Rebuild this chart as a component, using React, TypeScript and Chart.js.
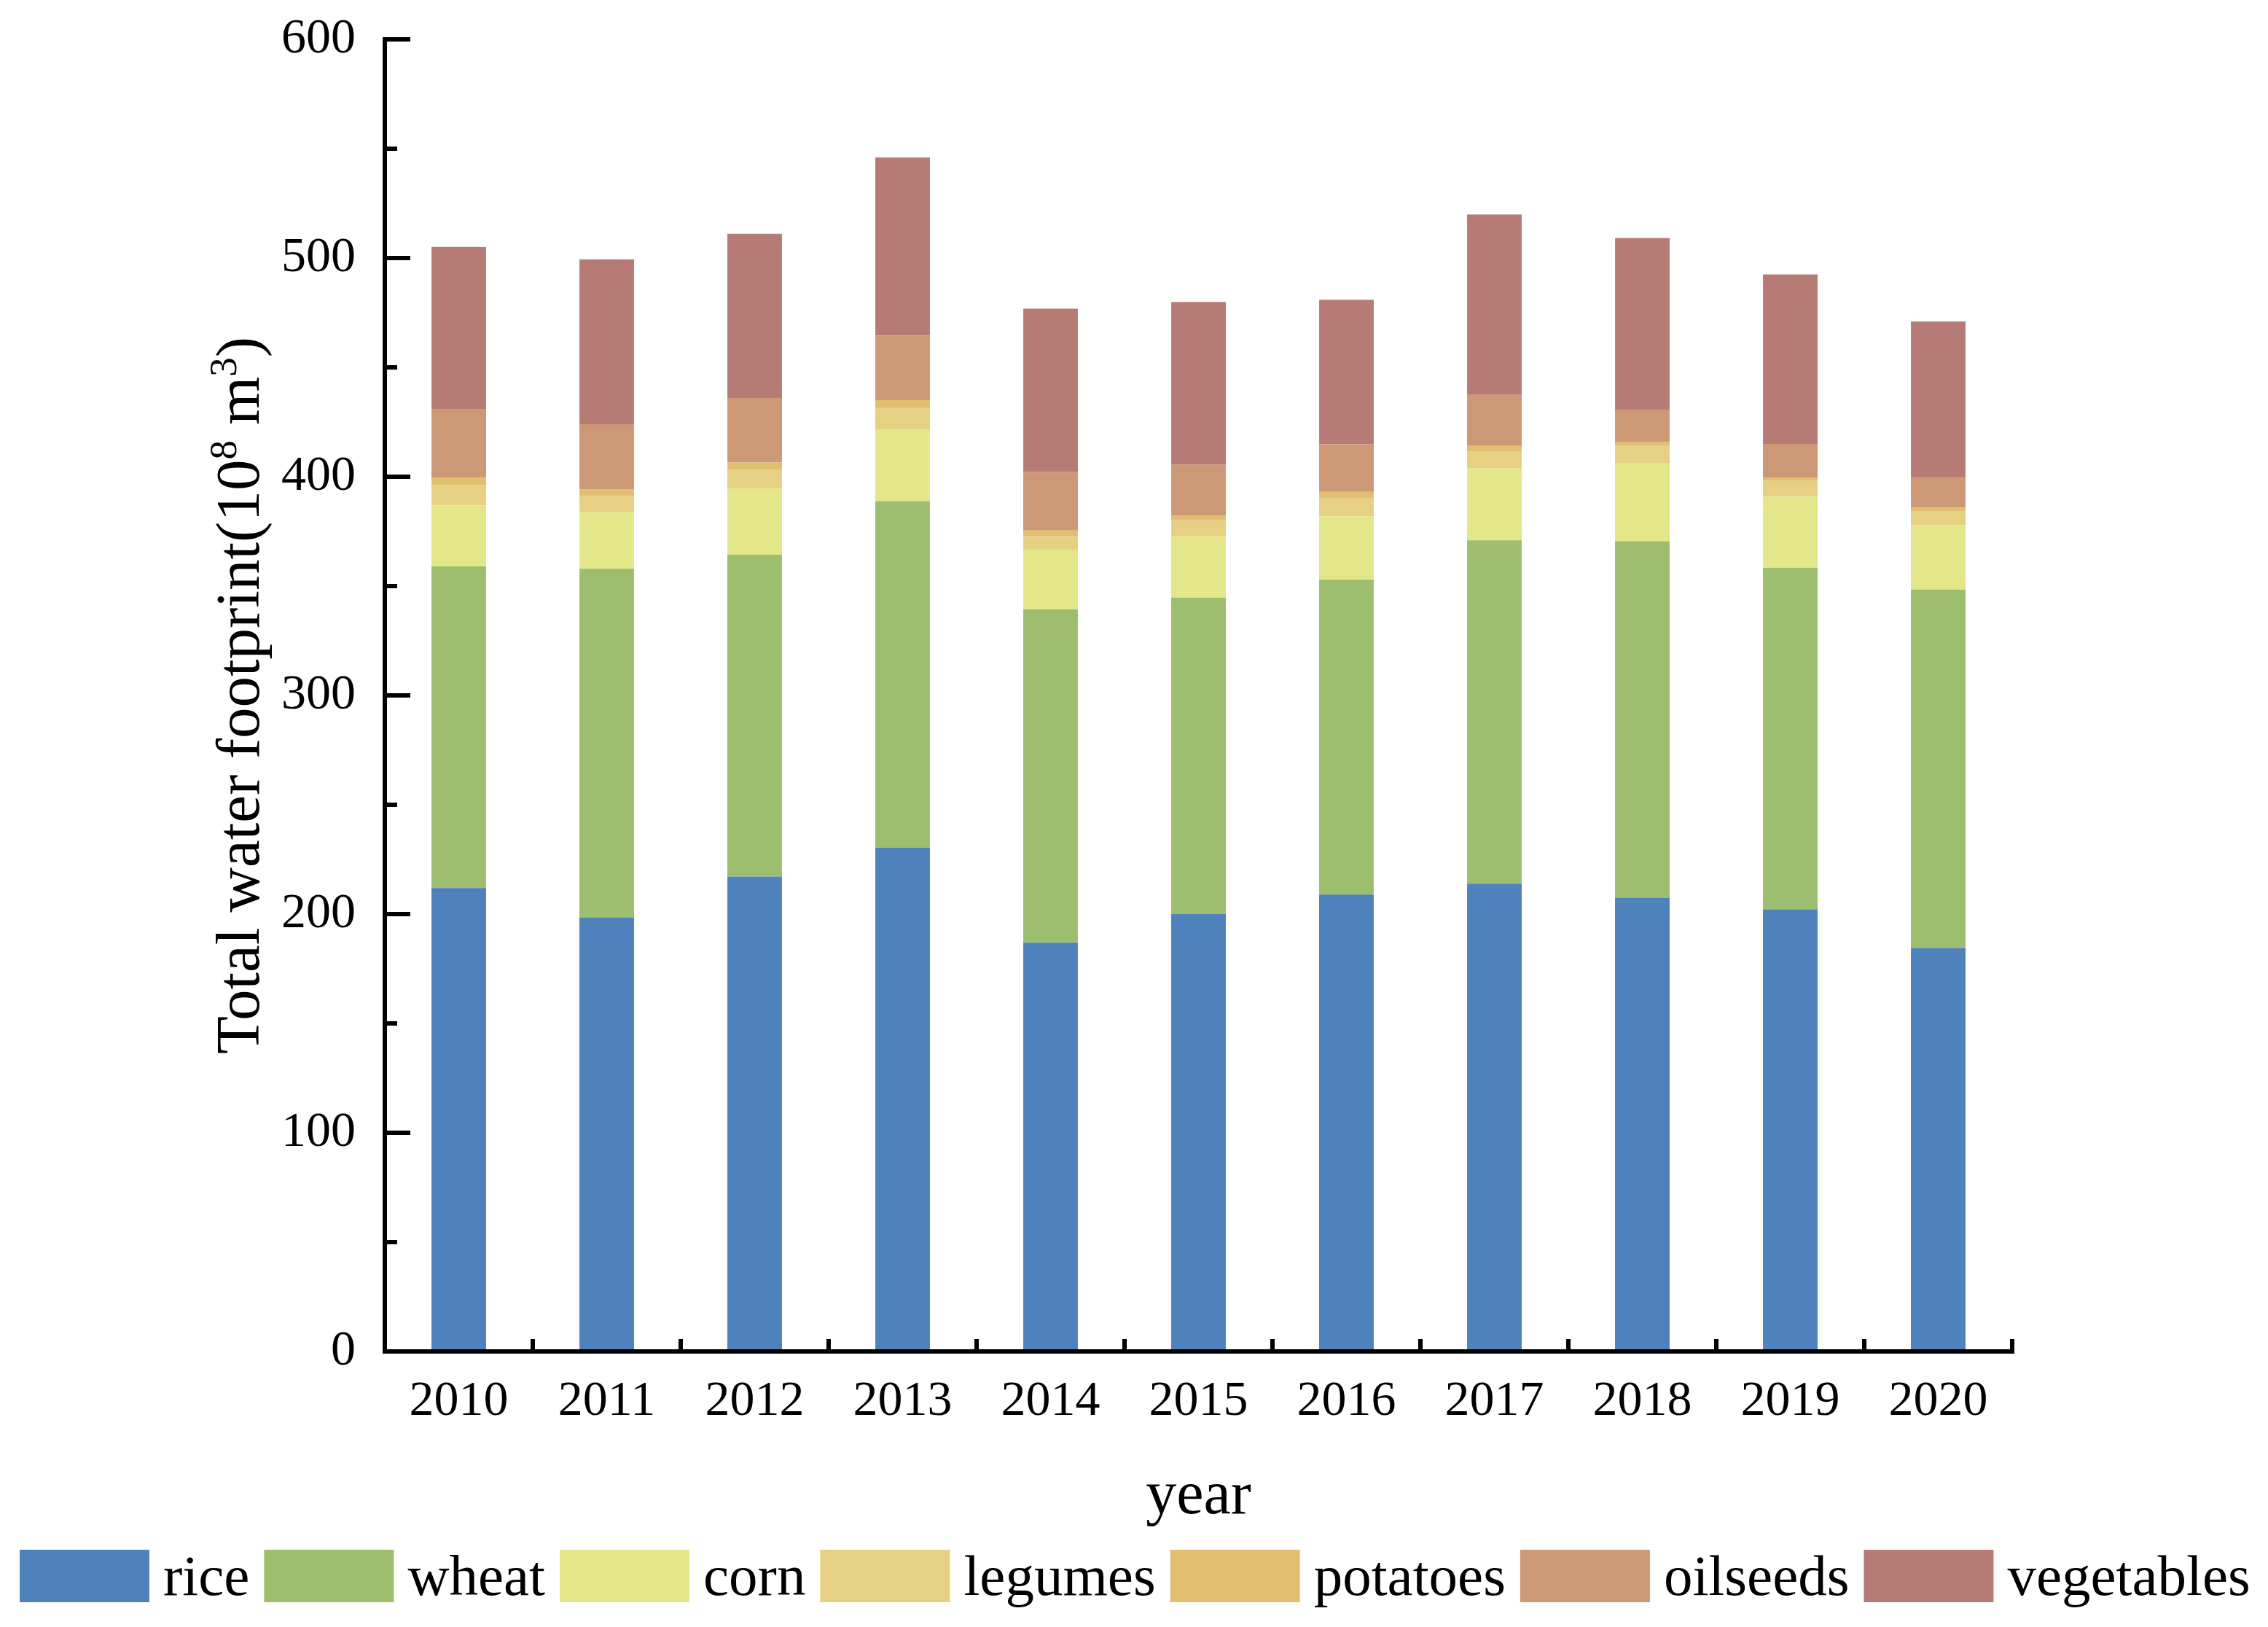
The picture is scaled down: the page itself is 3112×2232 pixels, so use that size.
import React, { useEffect, useRef } from 'react';
import { Chart, registerables } from 'chart.js';

Chart.register(...registerables);

const years = ['2010', '2011', '2012', '2013', '2014', '2015', '2016', '2017', '2018', '2019', '2020'];
const rice = [211.9, 198.5, 217.2, 230.4, 186.9, 200.1, 208.9, 213.9, 207.5, 202.2, 184.5];
const wheat = [147.1, 159.4, 147.1, 158.4, 152.4, 144.6, 144.0, 157.0, 163.0, 156.2, 163.8];
const corn = [27.9, 25.9, 30.1, 32.6, 27.4, 27.8, 28.9, 32.9, 35.6, 32.4, 29.6];
const legumes = [9.3, 7.3, 8.7, 10.0, 6.2, 7.3, 8.3, 7.9, 8.0, 7.3, 6.2];
const potatoes = [3.3, 3.2, 3.4, 3.6, 2.5, 2.4, 3.0, 2.4, 1.7, 1.6, 1.8];
const oilseeds = [31.5, 29.7, 29.5, 29.6, 26.8, 23.3, 21.7, 23.3, 14.6, 15.3, 13.6];
const vegetables = [74.1, 75.4, 75.1, 81.4, 74.6, 74.4, 66.1, 82.5, 78.8, 77.5, 71.5];

const seriesNames = ['rice', 'wheat', 'corn', 'legumes', 'potatoes', 'oilseeds', 'vegetables'];
const seriesData = [rice, wheat, corn, legumes, potatoes, oilseeds, vegetables];
const seriesColors = ['#4F81BD', '#9DBE6E', '#E4E68A', '#E6D084', '#E2BE70', '#CC9875', '#B77B76'];

const yMin = 0;
const yMax = 600;
const yStep = 100;
const yMinorStep = 50;

const FONT = "'Liberation Serif', 'Times New Roman', serif";

// target plot rectangle in canvas pixels
const AREA = { left: 528, top: 54, right: 2761, bottom: 1854 };
const W = 3112;
const H = 2232;

const decorPlugin = {
  id: 'decor',
  afterDatasetsDraw(chart: any) {
    const { ctx, chartArea, scales } = chart;
    const x = scales.x;
    const y = scales.y;
    const L = chartArea.left;
    const R = chartArea.right;
    const B = y.getPixelForValue(yMin);
    const T = y.getPixelForValue(yMax);
    ctx.save();
    ctx.strokeStyle = '#000';
    ctx.lineWidth = 6;
    ctx.lineCap = 'butt';
    ctx.beginPath();
    ctx.moveTo(L, T - 3);
    ctx.lineTo(L, B + 3);
    ctx.moveTo(L - 3, B);
    ctx.lineTo(R + 3, B);
    for (let v = yMin; v <= yMax; v += yMinorStep) {
      const p = y.getPixelForValue(v);
      const len = v % yStep === 0 ? 35 : 17;
      ctx.moveTo(L, p);
      ctx.lineTo(L + len, p);
    }
    const half = (x.getPixelForValue(1) - x.getPixelForValue(0)) / 2;
    for (let i = 0; i < years.length; i++) {
      const px = x.getPixelForValue(i) + half;
      ctx.moveTo(px, B + 3);
      ctx.lineTo(px, B - 17);
    }
    ctx.stroke();
    ctx.restore();
  },
  afterDraw(chart: any) {
    const { ctx, chartArea } = chart;
    ctx.save();
    ctx.fillStyle = '#000';
    // x axis title
    ctx.font = `84px ${FONT}`;
    ctx.textAlign = 'center';
    ctx.textBaseline = 'alphabetic';
    ctx.fillText('year', (chartArea.left + chartArea.right) / 2, 2076);

    // y axis title with superscripts
    const fs = 85;
    const sup = Math.round(fs * 0.62);
    const parts: [string, boolean][] = [
      ['Total water footprint(10', false],
      ['8', true],
      [' m', false],
      ['3', true],
      [')', false],
    ];
    let total = 0;
    const widths: number[] = [];
    for (const [t, s] of parts) {
      ctx.font = `${s ? sup : fs}px ${FONT}`;
      const w = ctx.measureText(t).width;
      widths.push(w);
      total += w;
    }
    ctx.translate(355, (chartArea.top + chartArea.bottom) / 2);
    ctx.rotate(-Math.PI / 2);
    ctx.textAlign = 'left';
    let cx = -total / 2;
    parts.forEach(([t, s], i) => {
      ctx.font = `${s ? sup : fs}px ${FONT}`;
      ctx.fillText(t, cx, s ? -fs * 0.36 : 0);
      cx += widths[i];
    });
    ctx.restore();

    // legend
    ctx.save();
    ctx.font = `79px ${FONT}`;
    ctx.textAlign = 'left';
    ctx.textBaseline = 'alphabetic';
    let lx = 27;
    const boxW = 178;
    const boxTop = 2126;
    const boxH = 72;
    seriesNames.forEach((name, i) => {
      ctx.fillStyle = seriesColors[i];
      ctx.fillRect(lx, boxTop, boxW, boxH);
      lx += boxW + 19;
      ctx.fillStyle = '#000';
      ctx.fillText(name, lx, 2188);
      lx += ctx.measureText(name).width + 20;
    });
    ctx.restore();
  },
};

export default function App() {
  const canvasRef = useRef<HTMLCanvasElement | null>(null);

  useEffect(() => {
    if (!canvasRef.current) return;
    const fit = { yWidth: AREA.left, xHeight: H - AREA.bottom };
    const pad = { left: 0, top: AREA.top, right: W - AREA.right, bottom: 0 };
    const chart = new Chart(canvasRef.current, {
      type: 'bar',
      data: {
        labels: years,
        datasets: seriesNames.map((name, i) => ({
          label: name,
          data: seriesData[i],
          backgroundColor: seriesColors[i],
          borderWidth: 0,
          barPercentage: 0.369,
          categoryPercentage: 1,
        })),
      },
      options: {
        responsive: false,
        animation: false,
        devicePixelRatio: 1,
        layout: { padding: pad },
        plugins: {
          legend: { display: false },
          tooltip: { enabled: false },
          title: { display: false },
        },
        scales: {
          x: {
            stacked: true,
            grid: { display: false, drawTicks: false },
            border: { display: false },
            ticks: { color: '#000', font: { family: FONT, size: 68 }, padding: 28, maxRotation: 0 },
            afterFit: (scale: any) => {
              scale.height = fit.xHeight;
              scale.paddingLeft = 0;
              scale.paddingRight = 0;
            },
          },
          y: {
            stacked: true,
            min: yMin,
            max: yMax,
            grid: { display: false, drawTicks: false },
            border: { display: false },
            ticks: { stepSize: yStep, color: '#000', font: { family: FONT, size: 68 }, padding: 40 },
            afterFit: (scale: any) => {
              scale.width = fit.yWidth;
              scale.paddingTop = 0;
              scale.paddingBottom = 0;
            },
          },
        },
      },
      plugins: [decorPlugin],
    });
    for (let it = 0; it < 3; it++) {
      const a = chart.chartArea;
      const dl = AREA.left - a.left;
      const dt = AREA.top - a.top;
      const dr = a.right - AREA.right;
      const db = a.bottom - AREA.bottom;
      if (Math.abs(dl) < 0.5 && Math.abs(dt) < 0.5 && Math.abs(dr) < 0.5 && Math.abs(db) < 0.5) break;
      fit.yWidth += dl;
      fit.xHeight += db;
      pad.top += dt;
      pad.right += dr;
      (chart.config.options as any).layout.padding = { ...pad };
      chart.update();
    }
    return () => chart.destroy();
  }, []);

  return (
    <canvas
      ref={canvasRef}
      width={W}
      height={H}
      style={{ position: 'absolute', left: 0, top: 0, width: `${W}px`, height: `${H}px` }}
    />
  );
}
